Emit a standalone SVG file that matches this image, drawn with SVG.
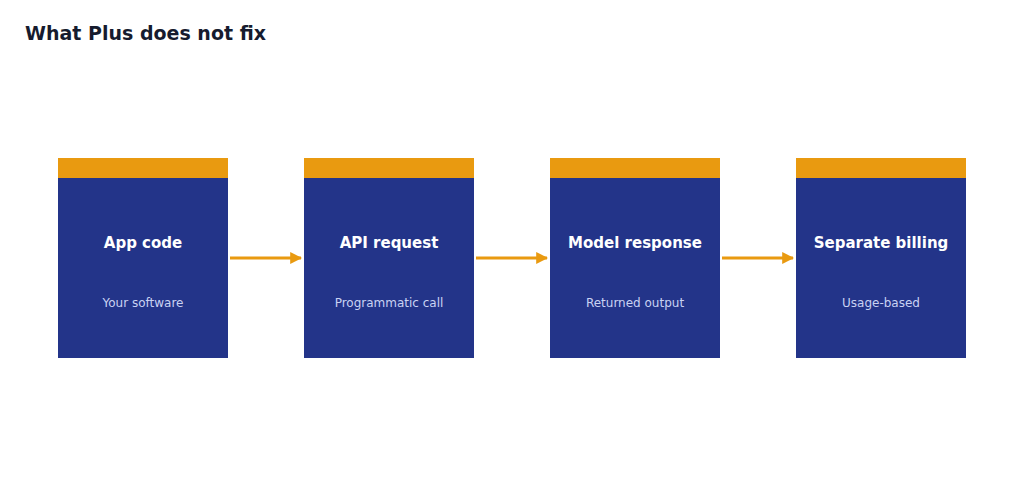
<svg xmlns="http://www.w3.org/2000/svg" width="1024" height="483" viewBox="0 0 1024 483">
<style>
.bg{fill:#ffffff}
.title{font-family:"DejaVu Sans",sans-serif;font-weight:bold;font-size:19px;fill:#161b2e}
.box{fill:#233489}
.bar{fill:#e99a10}
.lbl{font-family:"DejaVu Sans",sans-serif;font-weight:bold;font-size:15px;fill:#ffffff;text-anchor:middle}
.sub{font-family:"DejaVu Sans",sans-serif;font-size:12px;fill:#c9d2f3;text-anchor:middle}
.conn{stroke:#e99a10;stroke-width:3;fill:none;marker-end:url(#ah)}
</style>
<defs>
<marker id="ah" viewBox="0 0 10 10" refX="9" refY="5" markerWidth="4" markerHeight="4" orient="auto" markerUnits="strokeWidth">
<path d="M0,0 L10,5 L0,10 Z" fill="#e99a10"/>
</marker>
</defs>
<rect class="bg" x="0" y="0" width="1024" height="483"/>
<text class="title" x="25" y="40">What Plus does not fix</text>
<g id="node-app">
<rect class="box" x="58" y="158" width="170" height="200"/>
<rect class="bar" x="58" y="158" width="170" height="20"/>
<text class="lbl" x="143" y="248">App code</text>
<text class="sub" x="143" y="307">Your software</text>
</g>
<g id="node-api">
<rect class="box" x="304" y="158" width="170" height="200"/>
<rect class="bar" x="304" y="158" width="170" height="20"/>
<text class="lbl" x="389" y="248">API request</text>
<text class="sub" x="389" y="307">Programmatic call</text>
</g>
<g id="node-model">
<rect class="box" x="550" y="158" width="170" height="200"/>
<rect class="bar" x="550" y="158" width="170" height="20"/>
<text class="lbl" x="635" y="248">Model response</text>
<text class="sub" x="635" y="307">Returned output</text>
</g>
<g id="node-billing">
<rect class="box" x="796" y="158" width="170" height="200"/>
<rect class="bar" x="796" y="158" width="170" height="20"/>
<text class="lbl" x="881" y="248">Separate billing</text>
<text class="sub" x="881" y="307">Usage-based</text>
</g>
<g id="connectors">
<line class="conn" x1="230" y1="258" x2="301" y2="258"/>
<line class="conn" x1="476" y1="258" x2="547" y2="258"/>
<line class="conn" x1="722" y1="258" x2="793" y2="258"/>
</g>
</svg>
